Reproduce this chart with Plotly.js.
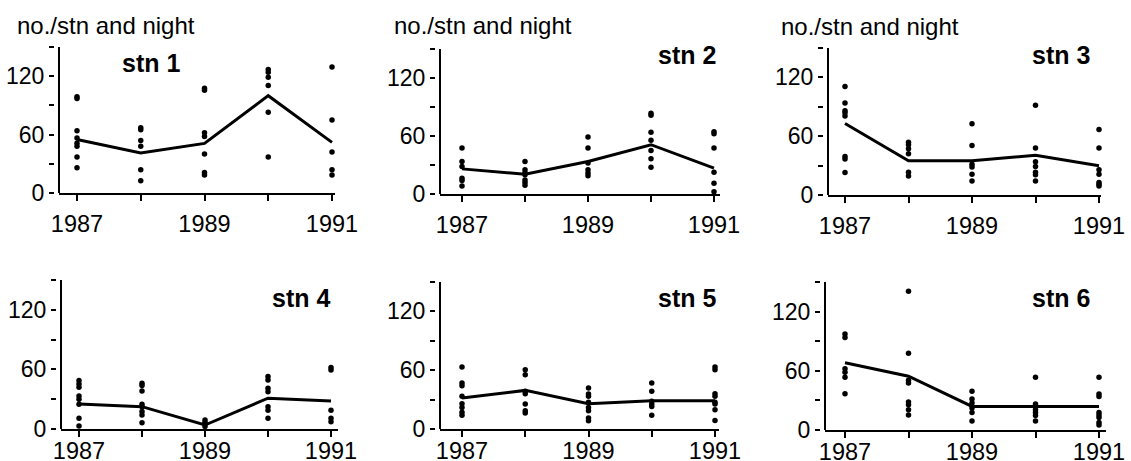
<!DOCTYPE html>
<html>
<head>
<meta charset="utf-8">
<script src="https://cdn.plot.ly/plotly-3.0.1.min.js"></script>
<style>html,body{margin:0;padding:0;background:#fff;}#chart{width:1131px;height:461px;}</style>
</head>
<body>
<div id="chart"></div>
<script>
// ---------- data ----------
const years = [1987, 1988, 1989, 1990, 1991];
const yearLabels = ['1987', '', '1989', '', '1991'];
const yTickVals = [0, 30, 60, 90, 120, 150];
const yTickText = ['0', '', '60', '', '120', ''];
const yTitle = 'no./stn and night';
const stationNames = ['stn 1', 'stn 2', 'stn 3', 'stn 4', 'stn 5', 'stn 6'];

// individual night catches, one list per year
const stn1Points = [[99, 97, 64, 56.5, 51, 48, 37, 26], [67, 65, 54, 48, 24, 12.5], [107.5, 105.5, 62, 58, 40, 21, 18.6], [127, 124, 119, 110.5, 83, 37], [129.5, 75, 42, 24, 18.6]];
const stn2Points = [[47.7, 33.7, 28.5, 16.3, 14, 8.3], [33.7, 25, 22, 20, 14.6, 12, 9], [59, 47.7, 32, 25, 21.6, 19], [83.5, 81.4, 64, 55.7, 45, 36.5, 27.8], [64.3, 62.3, 47.7, 22.6, 11, 2.4]];
const stn3Points = [[110.7, 94, 86, 84, 80.5, 39.4, 36.7, 23], [53.8, 51.4, 47.3, 42, 23.3, 19.5], [72.7, 50.4, 31.5, 28.5, 21.3, 14.4], [91.5, 48, 34, 29, 23.3, 20.6, 14.4], [66.9, 48, 25.7, 21.3, 12.7, 11, 9.3]];
const stn4Points = [[48.7, 45.4, 42, 33.3, 30, 25, 10.8, 3], [46, 43.7, 38.3, 25, 22.5, 17.5, 14, 6.4], [9, 6.7, 4.7, 2.4], [52.8, 49.4, 41, 37.6, 22.5, 19, 10.8], [62, 59.5, 19, 10.8, 7.4]];
const stn5Points = [[63.2, 47, 44.2, 33.3, 25.8, 22, 17, 14], [60.5, 55.4, 38.4, 36, 25.5, 18.7, 16.3], [41.8, 35.7, 33.3, 27.2, 22, 18.7, 11.2, 8.5], [47, 38.4, 28.2, 25.5, 23, 14], [63.2, 60.5, 36, 33.3, 27.2, 25.5, 19.7, 8.8]];
const stn6Points = [[97.2, 93.8, 62, 58.6, 53.5, 36.8], [140.5, 77.7, 50.5, 47.7, 28.3, 25.6, 20.5, 15.3], [39.2, 31.4, 27.3, 22.2, 17.7, 9.2], [53.5, 26.3, 23.9, 20.5, 17.7, 14.7, 9.2], [53.5, 36.5, 34, 17.7, 15.3, 12.6, 7.5, 5.1]];

// yearly means
const stn1Mean = [55, 41, 51, 100, 52];
const stn2Mean = [26, 20.5, 33.7, 51, 26.8];
const stn3Mean = [73, 35, 35, 40.5, 29.8];
const stn4Mean = [25.2, 22.5, 4, 31, 28.2];
const stn5Mean = [31.6, 39.4, 25.8, 28.9, 28.9];
const stn6Mean = [68.2, 54.5, 23.9, 23.9, 23.9];

const allPoints = [stn1Points, stn2Points, stn3Points, stn4Points, stn5Points, stn6Points];
const allMeans = [stn1Mean, stn2Mean, stn3Mean, stn4Mean, stn5Mean, stn6Mean];

// ---------- layout geometry (pixels) ----------
const W = 1131, H = 461;
const FONT = 'Liberation Sans, Arial, Helvetica, sans-serif';
// xl/xr: x-axis line ends, x87/x91: tick pixel positions, y0: zero line, ytop: 150 level
const panels = [
  {xl: 59, xr: 335, x87: 77, x91: 332, y0: 193, ytop: 47, lab: [151, 63], title: [15, 25], so: 3},
  {xl: 440, xr: 720, x87: 462, x91: 714, y0: 194, ytop: 49, lab: [687, 55], title: [392, 25], so: 3},
  {xl: 828, xr: 1101, x87: 845, x91: 1099, y0: 195, ytop: 48, lab: [1061, 55], title: [779, 27], so: 3},
  {xl: 61, xr: 338, x87: 79, x91: 331, y0: 429, ytop: 280, lab: [301, 298], so: -6},
  {xl: 440, xr: 719, x87: 462, x91: 715, y0: 429, ytop: 282, lab: [687, 298], so: -6},
  {xl: 825, xr: 1106, x87: 845, x91: 1099, y0: 430, ytop: 282, lab: [1061, 298], so: -6}
];

const traces = [];
const layout = {
  width: W, height: H,
  margin: {l: 0, r: 0, t: 0, b: 0},
  paper_bgcolor: '#fff', plot_bgcolor: 'rgba(0,0,0,0)',
  showlegend: false,
  font: {family: FONT, size: 23, color: '#000'},
  annotations: [],
  shapes: []
};

panels.forEach((p, i) => {
  const n = i + 1;
  const xa = n === 1 ? 'x' : 'x' + n;
  const ya = n === 1 ? 'y' : 'y' + n;
  const pxPerYr = (p.x91 - p.x87) / 4;
  const xr0 = 1987 - (p.x87 - p.xl) / pxPerYr;
  const xr1 = 1991 + (p.xr - p.x91) / pxPerYr;

  layout[n === 1 ? 'xaxis' : 'xaxis' + n] = {
    domain: [p.xl / W, p.xr / W], range: [xr0, xr1], anchor: ya,
    tickvals: years, ticktext: yearLabels, ticks: 'outside', ticklen: 6, tickwidth: 2, tickcolor: '#000',
    ticklabelstandoff: p.so,
    showline: true, linewidth: 2, linecolor: '#000', showgrid: false, zeroline: false,
    tickfont: {family: FONT, size: 23.5, color: '#000'}, fixedrange: true
  };
  layout[n === 1 ? 'yaxis' : 'yaxis' + n] = {
    domain: [1 - p.y0 / H, 1 - p.ytop / H], range: [0, 150], anchor: 'free', position: (p.xl - 5) / W,
    tickvals: yTickVals, ticktext: yTickText, ticks: 'outside', ticklen: 5, tickwidth: 2, tickcolor: '#000',
    showline: false, showgrid: false, zeroline: false,
    tickfont: {family: FONT, size: 23, color: '#000'}, fixedrange: true
  };
  // visible y-axis line
  layout.shapes.push({type: 'line', xref: xa + ' domain', yref: ya + ' domain', x0: 0, x1: 0, y0: 0, y1: 1,
    line: {color: '#000', width: 2}});

  const px = [], py = [];
  allPoints[i].forEach((vals, k) => vals.forEach(v => { px.push(years[k]); py.push(v); }));
  traces.push({type: 'scatter', mode: 'markers', x: px, y: py, xaxis: xa, yaxis: ya, cliponaxis: false,
    marker: {color: '#000', size: 5.5}, hoverinfo: 'skip'});
  traces.push({type: 'scatter', mode: 'lines', x: years, y: allMeans[i], xaxis: xa, yaxis: ya, cliponaxis: false,
    line: {color: '#000', width: 3}, hoverinfo: 'skip'});

  layout.annotations.push({text: '<b>' + stationNames[i] + '</b>', xref: 'paper', yref: 'paper',
    x: p.lab[0] / W, y: 1 - p.lab[1] / H, xanchor: 'center', yanchor: 'middle', showarrow: false,
    font: {family: FONT, size: 25, color: '#000'}});
  if (p.title) {
    layout.annotations.push({text: yTitle, xref: 'paper', yref: 'paper',
      x: p.title[0] / W, y: 1 - p.title[1] / H, xanchor: 'left', yanchor: 'middle', showarrow: false,
      font: {family: FONT, size: 24, color: '#000'}});
  }
});

Plotly.newPlot('chart', traces, layout, {displayModeBar: false, staticPlot: true});
</script>
</body>
</html>
